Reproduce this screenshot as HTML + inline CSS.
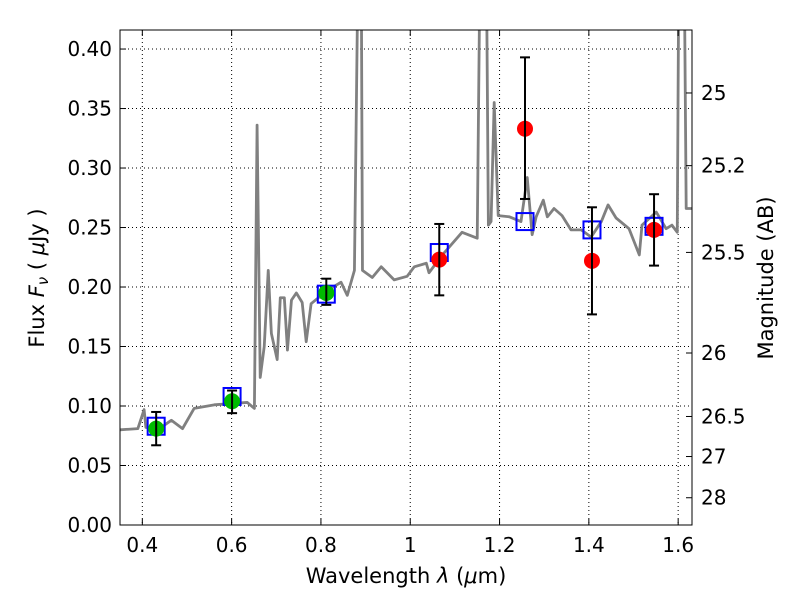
<!DOCTYPE html>
<html><head><meta charset="utf-8"><style>
body{margin:0;background:#fff;}
svg text{font-family:"DejaVu Sans","Liberation Sans",sans-serif;fill:#000;}
</style></head><body>
<svg id="chart" width="800" height="600" xmlns="http://www.w3.org/2000/svg"></svg>
<script>
const specWave=[0.35,0.39,0.404,0.408,0.434,0.465,0.49,0.516,0.561,0.635,0.651,0.657,0.664,0.673,0.682,0.689,0.702,0.709,0.718,0.725,0.734,0.745,0.758,0.767,0.778,0.814,0.845,0.859,0.875,0.884,0.89,0.893,0.915,0.935,0.964,0.993,1.009,1.036,1.042,1.072,1.116,1.15,1.157,1.17,1.175,1.181,1.188,1.197,1.222,1.248,1.262,1.273,1.282,1.298,1.307,1.322,1.34,1.36,1.383,1.405,1.428,1.443,1.461,1.49,1.513,1.519,1.551,1.573,1.586,1.598,1.602,1.613,1.618,1.63];
const specFlux=[0.080,0.081,0.097,0.082,0.080,0.088,0.081,0.098,0.101,0.103,0.098,0.336,0.124,0.150,0.214,0.161,0.139,0.191,0.191,0.147,0.189,0.195,0.187,0.154,0.186,0.197,0.204,0.193,0.214,0.5,0.5,0.214,0.208,0.217,0.206,0.209,0.217,0.220,0.212,0.227,0.246,0.241,0.5,0.5,0.252,0.255,0.355,0.26,0.259,0.255,0.292,0.244,0.259,0.273,0.259,0.266,0.260,0.248,0.248,0.242,0.255,0.269,0.258,0.249,0.227,0.252,0.263,0.249,0.252,0.246,0.5,0.5,0.266,0.266];
const greenWave=[0.431,0.601,0.812];
const greenFlux=[0.081,0.104,0.195];
const greenLo=[0.067,0.094,0.185];
const greenHi=[0.095,0.113,0.207];
const redWave=[1.065,1.257,1.407,1.546];
const redFlux=[0.223,0.333,0.222,0.248];
const redLo=[0.193,0.274,0.177,0.218];
const redHi=[0.253,0.393,0.267,0.278];
const modelWave=[0.431,0.601,0.812,1.065,1.257,1.407,1.546];
const modelFlux=[0.083,0.108,0.194,0.229,0.255,0.248,0.251];
const xTicks=[0.4,0.6,0.8,1,1.2,1.4,1.6];
const xTickLabels=["0.4","0.6","0.8","1","1.2","1.4","1.6"];
const yTicks=[0,0.05,0.1,0.15,0.2,0.25,0.3,0.35,0.4];
const yTickLabels=["0.00","0.05","0.10","0.15","0.20","0.25","0.30","0.35","0.40"];
const magTicks=[25,25.2,25.5,26,26.5,27,28];
const magTickLabels=["25","25.2","25.5","26","26.5","27","28"];

const L=120,R=692,T=30,B=525,XMIN=0.35,XMAX=1.631,YMIN=0,YMAX=0.416;
const sx=v=>L+(v-XMIN)/(XMAX-XMIN)*(R-L);
const sy=v=>B-(v-YMIN)/(YMAX-YMIN)*(B-T);
const magY=m=>sy(Math.pow(10,(23.9-m)/2.5));
const svg=document.getElementById('chart');
const NS='http://www.w3.org/2000/svg';
function mk(tag,attrs,parent){const e=document.createElementNS(NS,tag);for(const k in attrs)e.setAttribute(k,attrs[k]);(parent||svg).appendChild(e);return e;}

const defs=mk('defs',{});const cp=mk('clipPath',{id:'clip'},defs);mk('rect',{x:L,y:T,width:R-L,height:B-T},cp);

const grid=mk('g',{});


xTicks.forEach(v=>{mk('line',{x1:sx(v),x2:sx(v),y1:T,y2:B,stroke:'#000','stroke-width':1,'stroke-dasharray':'1,3'},grid);});
yTicks.forEach(v=>{mk('line',{x1:L,x2:R,y1:sy(v),y2:sy(v),stroke:'#000','stroke-width':1,'stroke-dasharray':'1,3'},grid);});

const plot=mk('g',{'clip-path':'url(#clip)'});
const sp=mk('polyline',{points:specWave.map((w,i)=>sx(w)+','+sy(specFlux[i])).join(' '),fill:'none',stroke:'#808080','stroke-width':2.8,'stroke-linejoin':'round'},plot);



modelWave.forEach((w,i)=>{
 const r=mk('rect',{x:sx(w)-8.5,y:sy(modelFlux[i])-8.5,width:17,height:17,fill:'none',stroke:'#0000ff','stroke-width':2},plot);
 
 
});
function pts(ws,fs,lo,hi,col,name){
 ws.forEach((w,i)=>{
  const g=mk('g',{},plot);
  
  
  mk('circle',{cx:sx(w),cy:sy(fs[i]),r:8,fill:col},g);
  const x=sx(w);
  mk('line',{x1:x,x2:x,y1:sy(lo[i]),y2:sy(hi[i]),stroke:'#000','stroke-width':2},g);
  mk('line',{x1:x-5,x2:x+5,y1:sy(lo[i]),y2:sy(lo[i]),stroke:'#000','stroke-width':2},g);
  mk('line',{x1:x-5,x2:x+5,y1:sy(hi[i]),y2:sy(hi[i]),stroke:'#000','stroke-width':2},g);
 });
}
pts(greenWave,greenFlux,greenLo,greenHi,'#00bb00','optical-data-point');
pts(redWave,redFlux,redLo,redHi,'#ff0000','nir-data-point');

const frame=mk('rect',{x:L,y:T,width:R-L,height:B-T,fill:'none',stroke:'#000','stroke-width':1});



xTicks.forEach((v,i)=>{
 mk('line',{x1:sx(v),x2:sx(v),y1:B,y2:B-6,stroke:'#000'});
 mk('line',{x1:sx(v),x2:sx(v),y1:T,y2:T+6,stroke:'#000'});
 const t=mk('text',{x:sx(v),y:B+27,'text-anchor':'middle','font-size':20});t.textContent=xTickLabels[i];
 
 
});
yTicks.forEach((v,i)=>{
 mk('line',{x1:L,x2:L+6,y1:sy(v),y2:sy(v),stroke:'#000'});
 const t=mk('text',{x:L-8,y:sy(v)+7,'text-anchor':'end','font-size':20});t.textContent=yTickLabels[i];
 
 
});
magTicks.forEach((m,i)=>{
 const y=magY(m);
 mk('line',{x1:R,x2:R-6,y1:y,y2:y,stroke:'#000'});
 const t=mk('text',{x:R+9,y:y+7,'text-anchor':'start','font-size':20});t.textContent=magTickLabels[i];
 
 
});
</script>
<svg width="800" height="600" style="position:absolute;left:0;top:0" xmlns="http://www.w3.org/2000/svg">
<text x="406" y="583" text-anchor="middle" font-size="21">Wavelength  <tspan font-style="italic">λ</tspan> (<tspan font-style="italic">μ</tspan>m)</text>
<text transform="translate(44,278) rotate(-90)" text-anchor="middle" font-size="21">Flux  <tspan font-style="italic">F</tspan><tspan font-style="italic" font-size="15" dy="4">ν</tspan><tspan dy="-4">  (  </tspan><tspan font-style="italic">μ</tspan>Jy )</text>
<text transform="translate(773,278) rotate(-90)" text-anchor="middle" font-size="21">Magnitude (AB)</text>
</svg>
</body></html>
